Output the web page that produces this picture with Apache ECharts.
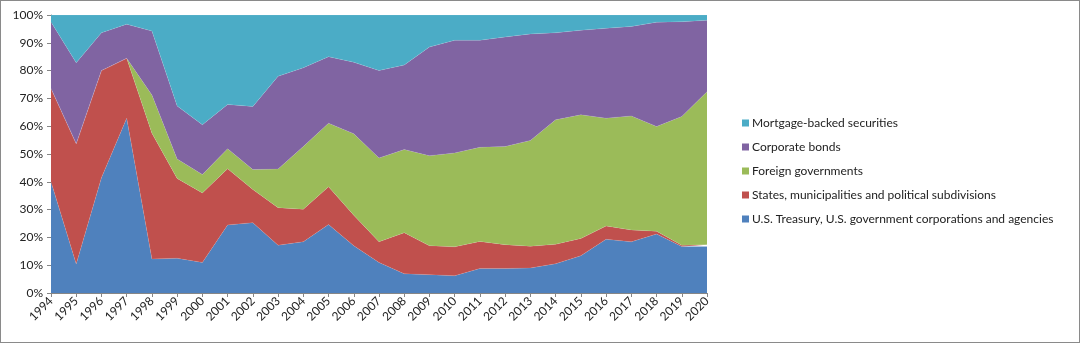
<!DOCTYPE html>
<html>
<head>
<meta charset="utf-8">
<script src="https://cdn.jsdelivr.net/npm/echarts@6/dist/echarts.min.js"></script>
<style>
  html, body { margin: 0; padding: 0; background: #fff; }
  #chart { width: 1080px; height: 343px; box-sizing: border-box; border: 1px solid #8a8a8a; }
</style>
</head>
<body>
<div id="chart"></div>
<script>
// Years on the category axis
const years = ['1994','1995','1996','1997','1998','1999','2000','2001','2002','2003','2004','2005','2006','2007',
               '2008','2009','2010','2011','2012','2013','2014','2015','2016','2017','2018','2019','2020'];

// Share of holdings by asset type (percent of total, each year sums to 100)
const treasury = [40,10.4,41.5,62.9,12.2,12.5,11,24.5,25.3,17.2,18.4,24.6,17,11,6.9,6.6,6.2,8.8,8.8,9,10.5,13.4,19.3,18.4,21.2,16.7,16.7];
const states   = [33.6,43.3,38.5,21.5,45.3,28.7,25,20.2,11.9,13.5,11.7,13.6,11,7.4,14.8,10.4,10.4,9.7,8.6,7.8,7,6.2,4.8,4.3,1,0.5,0.7];
const foreign  = [0,0,0,0,13.7,7,6.6,7.2,7.2,13.9,22.6,22.9,29.3,30.2,29.9,32.4,33.8,33.9,35.3,38.1,44.8,44.5,38.8,41,37.7,46.3,55];
const corporate= [23.9,29.1,13.6,12.3,23,19.1,17.9,15.9,22.7,33.4,28.3,23.9,25.7,31.4,30.4,39.1,40.5,38.5,39.4,38.3,31.3,30.4,32.3,32.2,37.5,34.1,25.7];
const mortgage = [2.5,17.2,6.4,3.3,5.8,32.7,39.5,32.2,32.9,22,19,15,17,20,18,11.5,9.1,9.1,7.9,6.8,6.4,5.5,4.8,4.1,2.6,2.4,1.9];

// Y axis tick values (percent)
const yTicks = [0,10,20,30,40,50,60,70,80,90,100];

const seriesDefs = [
  { name: 'U.S. Treasury, U.S. government corporations and agencies', data: treasury,  color: '#4F81BD' },
  { name: 'States, municipalities and political subdivisions',         data: states,    color: '#C0504D' },
  { name: 'Foreign governments',                                        data: foreign,   color: '#9BBB59' },
  { name: 'Corporate bonds',                                            data: corporate, color: '#8064A2' },
  { name: 'Mortgage-backed securities',                                 data: mortgage,  color: '#4BACC6' }
];

const font = 'Lato, "Open Sans", "Liberation Sans", sans-serif';
const chart = echarts.init(document.getElementById('chart'), null, { renderer: 'canvas' });

chart.setOption({
  animation: false,
  textStyle: { fontFamily: font },
  grid: { left: 50, right: 372, top: 14, bottom: 49, containLabel: false },
  legend: {
    orient: 'vertical',
    left: 736,
    top: 111,
    itemWidth: 7,
    itemHeight: 7,
    itemGap: 12,
    icon: 'rect',
    textStyle: { fontFamily: font, fontSize: 12, color: '#222', padding: [0, 0, 0, -2] },
    data: seriesDefs.map(s => s.name).reverse()
  },
  xAxis: {
    type: 'category',
    data: years,
    boundaryGap: false,
    axisLine: { lineStyle: { color: '#868686' } },
    axisTick: { alignWithLabel: true, length: 4, lineStyle: { color: '#868686' } },
    axisLabel: { rotate: 45, interval: 0, fontSize: 12, color: '#222', margin: 6, fontFamily: font }
  },
  yAxis: {
    type: 'value',
    min: yTicks[0],
    max: yTicks[yTicks.length - 1],
    interval: yTicks[1] - yTicks[0],
    splitLine: { show: false },
    axisLine: { show: true, lineStyle: { color: '#868686' } },
    axisTick: { show: true, length: 4, lineStyle: { color: '#868686' } },
    axisLabel: { formatter: v => v + '%', fontSize: 12, color: '#222', margin: 8, fontFamily: font }
  },
  series: seriesDefs.map(s => ({
    name: s.name,
    type: 'line',
    stack: 'total',
    data: s.data,
    symbol: 'none',
    color: s.color,
    lineStyle: { width: 0.5, color: 'rgba(255,255,255,0.2)' },
    areaStyle: { color: s.color, opacity: 1 }
  }))
});
</script>
</body>
</html>
